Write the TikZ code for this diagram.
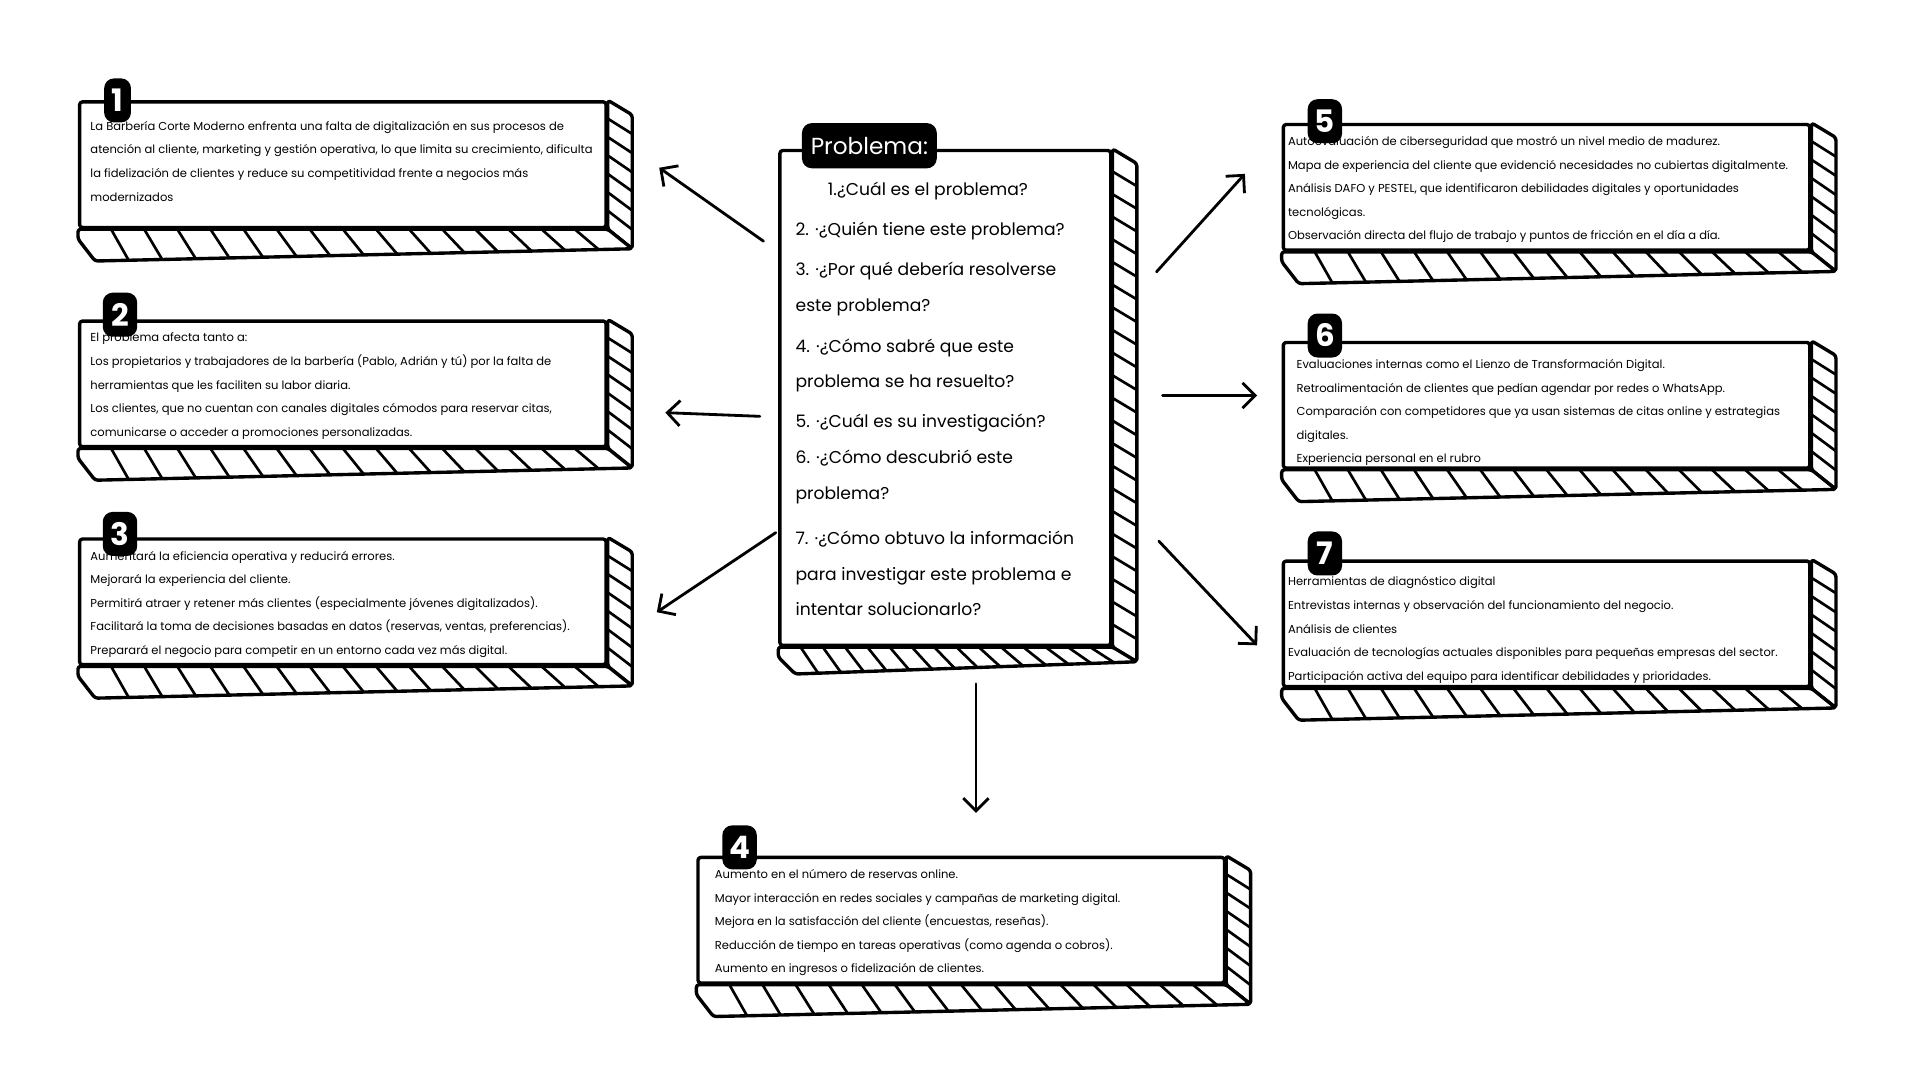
\documentclass[tikz,border=0pt]{standalone}
\usepackage{fontspec}
\setmainfont{Poppins}
\usetikzlibrary{arrows.meta, positioning, calc}

% right face and striped bottom band of a slab node
\newcommand{\slabdeco}[4]{%
  \coordinate (#1tr) at ($(#1.north east)+(20,12)$);
  \coordinate (#1br) at ($(#1.south east)+(20,#4-10)$);
  \coordinate (#1bl) at ($(#1.south west)+(14,#4)$);
  \draw[slabline] (#1.north east) -- (#1tr) -- (#1br) -- (#1.south east) -- cycle;
  \draw[slabline] (#1.south west) -- (#1.south east) -- (#1br) -- (#1bl) -- ($(#1.south west)+(0,8)$) -- cycle;
  \foreach \i [evaluate=\i as \t using \i/(#2+1)] in {1,...,#2}
    \draw[stripe] ($(#1.south west)!\t!(#1.south east)$) -- ($(#1bl)!\t!(#1br)$);
  \foreach \i [evaluate=\i as \t using \i/(#3+1)] in {1,...,#3}
    \draw[stripe] ($(#1.north east)!\t!(#1.south east)$) -- ($(#1tr)!\t!(#1br)$);
}

\tikzset{
  slabline/.style={line width=2.4pt, fill=white, line join=round, rounded corners=2pt},
  stripe/.style={line width=1.9pt, line cap=round},
  slab/.style={slabline, draw, inner sep=0pt, minimum width=13.16cm, minimum height=3.14cm},
  bigslab/.style={slab, minimum width=8.27cm, minimum height=12.37cm},
  tab/.style={fill=black, text=white, rounded corners=7pt, inner sep=0pt, minimum width=0.86cm, minimum height=1.1cm, font=\fontsize{22}{22}\selectfont\bfseries},
  body/.style={anchor=north west, inner sep=0pt, align=left, font=\fontsize{8.2}{16.75}\selectfont},
  ask/.style={anchor=north west, inner sep=0pt, align=left, font=\fontsize{12.2}{25.2}\selectfont},
  arr/.style={-{Straight Barb[length=9pt, width=18pt]}, line width=2pt, line cap=round},
}

\begin{document}
\begin{tikzpicture}[x=0.030612cm, y=-0.030612cm]
  \fill[white] (0,0) rectangle (1568,882);
  \useasboundingbox (0,0) rectangle (1568,882);

  % Problema
  \node[bigslab] (c) at (772,325) {};
  \slabdeco{c}{14}{21}{22}
  \node[ask] (qs) at ($(c.north west)+(14,27)$) {\hspace*{23pt}1.¿Cuál es el problema?\\[3.5pt]
    2. ·¿Quién tiene este problema?\\[3pt]
    3. ·¿Por qué debería resolverse\\
    este problema?\\[4.3pt]
    4. ·¿Cómo sabré que este\\
    problema se ha resuelto?\\[2.6pt]
    5. ·¿Cuál es su investigación?\\[1pt]
    6. ·¿Cómo descubrió este\\
    problema?\\[7pt]
    7. ·¿Cómo obtuvo la información\\
    para investigar este problema e\\
    intentar solucionarlo?};
  \node[tab, minimum width=3.37cm, minimum height=1.13cm, font=\fontsize{16.5}{16.5}\selectfont] (ptab) at (710,119) {Problema:};

  % 1
  \node[slab] (b1) at (280,134.5) {};
  \slabdeco{b1}{15}{6}{26}
  \node[body] (t1) at ($(b1.north west)+(10,17)$) {La Barbería Corte Moderno enfrenta una falta de digitalización en sus procesos de\\
    atención al cliente, marketing y gestión operativa, lo que limita su crecimiento, dificulta\\
    la fidelización de clientes y reduce su competitividad frente a negocios más\\
    modernizados};
  \node[tab, minimum width=0.67cm] (n1) at (96,82) {1};

  % 2
  \node[slab] (b2) at (280,313.5) {};
  \slabdeco{b2}{15}{6}{26}
  \node[body] (t2) at ($(b2.north west)+(10,11)$) {El problema afecta tanto a:\\
    Los propietarios y trabajadores de la barbería (Pablo, Adrián y tú) por la falta de\\
    herramientas que les faciliten su labor diaria.\\
    Los clientes, que no cuentan con canales digitales cómodos para reservar citas,\\
    comunicarse o acceder a promociones personalizadas.};
  \node[tab] (n2) at (98,257) {2};

  % 3
  \node[slab] (b3) at (280,491.5) {};
  \slabdeco{b3}{15}{6}{26}
  \node[body] (t3) at ($(b3.north west)+(10,11)$) {Aumentará la eficiencia operativa y reducirá errores.\\
    Mejorará la experiencia del cliente.\\
    Permitirá atraer y retener más clientes (especialmente jóvenes digitalizados).\\
    Facilitará la toma de decisiones basadas en datos (reservas, ventas, preferencias).\\
    Preparará el negocio para competir en un entorno cada vez más digital.};
  \node[tab] (n3) at (98,436) {3};

  % 4
  \node[slab] (b4) at (785,751.5) {};
  \slabdeco{b4}{15}{6}{26}
  \node[body] (t4) at ($(b4.north west)+(15,11)$) {Aumento en el número de reservas online.\\
    Mayor interacción en redes sociales y campañas de marketing digital.\\
    Mejora en la satisfacción del cliente (encuestas, reseñas).\\
    Reducción de tiempo en tareas operativas (como agenda o cobros).\\
    Aumento en ingresos o fidelización de clientes.};
  \node[tab] (n4) at (604,692) {4};

  % 5
  \node[slab] (b5) at (1263,153) {};
  \slabdeco{b5}{15}{6}{26}
  \node[body] (t5) at ($(b5.north west)+(5,11)$) {Autoevaluación de ciberseguridad que mostró un nivel medio de madurez.\\
    Mapa de experiencia del cliente que evidenció necesidades no cubiertas digitalmente.\\
    Análisis DAFO y PESTEL, que identificaron debilidades digitales y oportunidades\\
    tecnológicas.\\
    Observación directa del flujo de trabajo y puntos de fricción en el día a día.};
  \node[tab] (n5) at (1082,99) {5};

  % 6
  \node[slab] (b6) at (1263,331) {};
  \slabdeco{b6}{15}{6}{26}
  \node[body] (t6) at ($(b6.north west)+(12,15)$) {Evaluaciones internas como el Lienzo de Transformación Digital.\\
    Retroalimentación de clientes que pedían agendar por redes o WhatsApp.\\
    Comparación con competidores que ya usan sistemas de citas online y estrategias\\
    digitales.\\
    Experiencia personal en el rubro};
  \node[tab] (n6) at (1082,274) {6};

  % 7
  \node[slab] (b7) at (1263,509.5) {};
  \slabdeco{b7}{15}{6}{26}
  \node[body] (t7) at ($(b7.north west)+(5,14)$) {Herramientas de diagnóstico digital\\
    Entrevistas internas y observación del funcionamiento del negocio.\\
    Análisis de clientes\\
    Evaluación de tecnologías actuales disponibles para pequeñas empresas del sector.\\
    Participación activa del equipo para identificar debilidades y prioridades.};
  \node[tab] (n7) at (1082,452) {7};

  % Arrows
  \draw[arr] ($(c.west)+(-12,-128)$) -- ($(b1.east)+(42,2.5)$);
  \draw[arr] ($(c.west)+(-15,15)$) -- ($(b2.east)+(47,23.5)$);
  \draw[arr] ($(c.west)+(-2,110)$) -- ($(b3.east)+(40,8.5)$);
  \draw[arr] ($(c.south)+(25,30)$) -- ($(b4.north)+(12,-35)$);
  \draw[arr] ($(c.east)+(36,-103)$) -- ($(b5.west)+(-30,-11)$);
  \draw[arr] ($(c.east)+(41,-2)$) -- ($(b6.west)+(-20,-8)$);
  \draw[arr] ($(c.east)+(38,117)$) -- ($(b7.west)+(-20,17.5)$);
\end{tikzpicture}
\end{document}
